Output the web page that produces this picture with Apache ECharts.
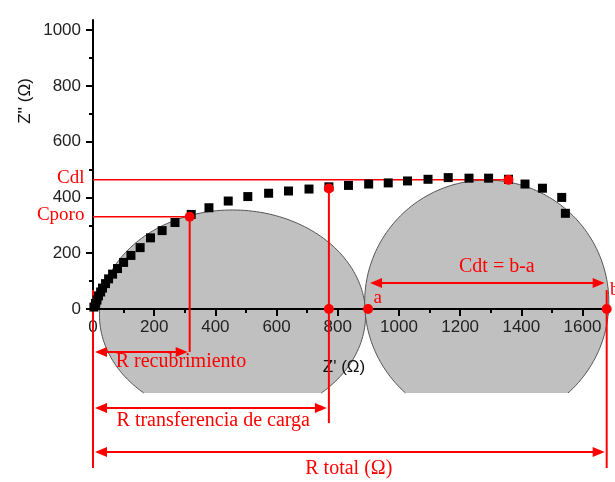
<!DOCTYPE html>
<html><head><meta charset="utf-8">
<script src="https://cdn.jsdelivr.net/npm/echarts@6/dist/echarts.min.js"></script>
<style>html,body{margin:0;padding:0;background:#fff}#c{width:615px;height:482px}</style>
</head><body><div id="c"></div><script>
// Measured impedance points (Z' , Z'')
const zReal = [3,8,13,18,25,31,41,51,64,80,100,124,154,188,226,268,321,379,442,506,574,639,706,771,835,901,965,1028,1095,1161,1229,1293,1358,1412,1469,1532,1544];
const zImag = [7,20,32,47,61,75,91,108,125,145,167,192,220,255,281,310,339,363,387,403,415,423,430,438,443,448,452,459,465,471,469,469,465,448,433,400,343];

// Axis ticks
const xMajor = [0,200,400,600,800,1000,1200,1400,1600];
const xMinor = [100,300,500,700,900,1100,1300,1500];
const yMajor = [0,200,400,600,800,1000];
const yMinor = [100,300,500,700,900];

// Grey equivalent-circuit semicircles: centre x, centre y, radius x, radius y (data units), cut level
const ellCx = [456, 1287];
const ellCy = [-21, 25];
const ellRx = [435, 399];
const ellRy = [376, 437];
const ellCut = -301;

// Red annotation geometry (data units)
const hGuides = [[0, 1358, 463], [0, 316, 331]];          // x1, x2, y
const vGuides = [[316, 331, -154], [771, 432, -409], [0, 68, -570], [1679, 68, -570]]; // x, y1, y2
const arrows = [[0, 316, -154], [0, 771, -355], [0, 1679, -513], [899, 1679, 93]];  // x1, x2, y
const dots = [[316, 331], [771, 432], [1358, 463], [771, 0], [899, 0], [1679, 0]];
const labels = ['Cdl', 'Cporo', 'Cdt = b-a', 'a', 'b', 'R recubrimiento', 'R transferencia de carga', 'R total (\u03A9)'];
const labelX = [-28, -28, 1320, 917, 1690, 74, 77, 836];
const labelY = [470, 337, 150, 39, 68, -190, -401, -573];
const labelAlign = ['right', 'right', 'center', 'left', 'left', 'left', 'left', 'center'];

const RED = '#ff0000';
const chart = echarts.init(document.getElementById('c'));

function renderEllipse(params, api) {
  const cx = api.value(0), cy = api.value(1), rx = api.value(2), ry = api.value(3);
  const t0 = Math.asin(Math.max(-1, Math.min(1, (ellCut - cy) / ry)));
  const t1 = Math.PI - t0;
  const pts = [];
  const N = 160;
  for (let i = 0; i <= N; i++) {
    const t = t0 + (t1 - t0) * i / N;
    pts.push(api.coord([cx + rx * Math.cos(t), cy + ry * Math.sin(t)]));
  }
  return {
    type: 'group',
    children: [
      { type: 'polygon', shape: { points: pts }, style: { fill: '#c0c0c0', stroke: null } },
      { type: 'polyline', shape: { points: pts }, style: { fill: null, stroke: '#555', lineWidth: 1 } }
    ]
  };
}

function renderLines(params, api) {
  const ch = [];
  hGuides.forEach(g => {
    const a = api.coord([g[0], g[2]]), b = api.coord([g[1], g[2]]);
    ch.push({ type: 'line', shape: { x1: a[0], y1: a[1], x2: b[0], y2: b[1] }, style: { stroke: RED, lineWidth: 1.5 } });
  });
  vGuides.forEach(g => {
    const a = api.coord([g[0], g[1]]), b = api.coord([g[0], g[2]]);
    ch.push({ type: 'line', shape: { x1: a[0], y1: a[1], x2: b[0], y2: b[1] }, style: { stroke: RED, lineWidth: 2 } });
  });
  const hl = 12, hw = 5;
  arrows.forEach(g => {
    const a = api.coord([g[0], g[2]]), b = api.coord([g[1], g[2]]);
    const xa = a[0] + 2, xb = b[0] - 2, y = a[1];
    ch.push({ type: 'line', shape: { x1: xa + hl - 2, y1: y, x2: xb - hl + 2, y2: y }, style: { stroke: RED, lineWidth: 2 } });
    ch.push({ type: 'polygon', shape: { points: [[xa, y], [xa + hl, y - hw], [xa + hl, y + hw]] }, style: { fill: RED } });
    ch.push({ type: 'polygon', shape: { points: [[xb, y], [xb - hl, y - hw], [xb - hl, y + hw]] }, style: { fill: RED } });
  });
  return { type: 'group', children: ch };
}

function renderMarks(params, api) {
  const ch = [];
  dots.forEach(d => {
    const p = api.coord(d);
    ch.push({ type: 'circle', shape: { cx: p[0], cy: p[1], r: 5 }, style: { fill: RED } });
  });
  labels.forEach((t, i) => {
    const p = api.coord([labelX[i], labelY[i]]);
    const big = i >= 5 || i === 2;
    ch.push({ type: 'text', x: p[0], y: p[1], style: {
      text: t, fill: RED, font: (big ? 20 : 19) + 'px "Liberation Serif", "Times New Roman", serif',
      align: labelAlign[i], textAlign: labelAlign[i], verticalAlign: 'middle', textVerticalAlign: 'middle' } });
  });
  return { type: 'group', children: ch };
}

const labelStyle = { fontFamily: '"Liberation Sans", Arial, sans-serif', fontSize: 17, color: '#222',
  formatter: v => String(v) };

chart.setOption({
  animation: false,
  backgroundColor: '#fff',
  grid: { left: 93, right: 8, top: 20, bottom: 173, containLabel: false },
  xAxis: [
    { type: 'value', min: 0, max: 1680, position: 'bottom',
      name: "Z' (\u03A9)", nameLocation: 'middle', nameGap: 50,
      nameTextStyle: { fontFamily: '"Liberation Sans", Arial, sans-serif', fontSize: 17, color: '#111', padding: [0, 12, 0, 0] },
      axisLine: { show: true, onZero: false, lineStyle: { color: '#000', width: 2 } },
      axisTick: { show: true, inside: false, length: 7, customValues: xMajor, lineStyle: { color: '#000', width: 2 } },
      axisLabel: Object.assign({ margin: 10, customValues: xMajor }, labelStyle),
      splitLine: { show: false } },
    { type: 'value', min: 0, max: 1680, position: 'bottom', gridIndex: 0,
      axisLine: { show: false }, axisLabel: { show: false }, splitLine: { show: false },
      axisTick: { show: true, inside: false, length: 4, customValues: xMinor, lineStyle: { color: '#000', width: 2 } } }
  ],
  yAxis: [
    { type: 'value', min: 0, max: 1036, position: 'left',
      axisLine: { show: true, onZero: false, lineStyle: { color: '#000', width: 2 } },
      axisTick: { show: true, inside: false, length: 7, customValues: yMajor, lineStyle: { color: '#000', width: 2 } },
      axisLabel: Object.assign({ margin: 12, customValues: yMajor }, labelStyle),
      splitLine: { show: false } },
    { type: 'value', min: 0, max: 1036, position: 'left', gridIndex: 0,
      axisLine: { show: false }, axisLabel: { show: false }, splitLine: { show: false },
      axisTick: { show: true, inside: false, length: 4, customValues: yMinor, lineStyle: { color: '#000', width: 2 } } }
  ],
  graphic: [
    { type: 'text', x: 25, y: 101, rotation: Math.PI / 2,
      style: { text: "Z'' (\u03A9)", fill: '#111', font: '17px "Liberation Sans", Arial, sans-serif',
               align: 'center', textAlign: 'center', verticalAlign: 'middle', textVerticalAlign: 'middle' } }
  ],
  series: [
    { type: 'custom', name: 'circles', clip: false, z: -1, silent: true,
      renderItem: renderEllipse,
      data: ellCx.map((c, i) => [c, ellCy[i], ellRx[i], ellRy[i]]),
      encode: { x: 0, y: 1 } },
    { type: 'custom', name: 'guides', clip: false, z: 2, silent: true,
      renderItem: renderLines, data: [[0, 0]] },
    { type: 'scatter', name: 'Z', symbol: 'rect', symbolSize: 9, z: 3,
      itemStyle: { color: '#000', opacity: 1 },
      data: zReal.map((x, i) => [x, zImag[i]]) },
    { type: 'custom', name: 'marks', clip: false, z: 5, silent: true,
      renderItem: renderMarks, data: [[0, 0]] }
  ]
});
</script></body></html>
